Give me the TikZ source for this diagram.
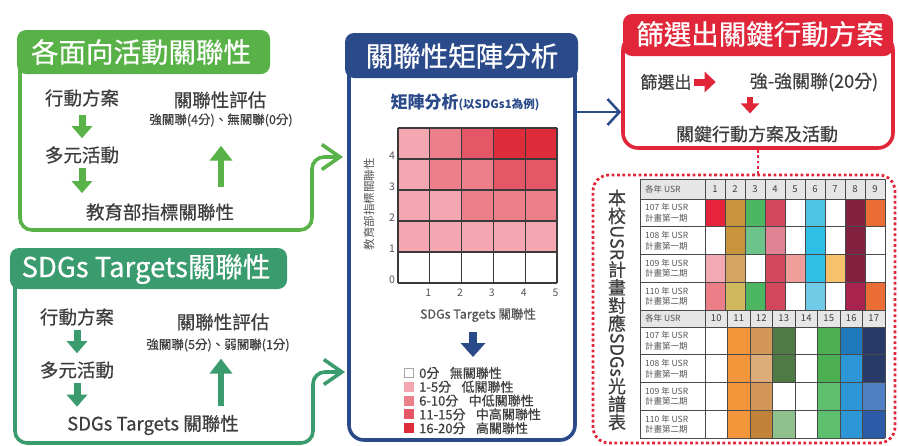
\documentclass[tikz,border=0pt]{standalone}
\usepackage{fontspec}
\setmainfont{Noto Sans CJK TC}
\newfontfamily\medf{Noto Sans CJK TC}[FakeBold=0.6]
\usepackage{graphicx}
\usetikzlibrary{arrows.meta}
\definecolor{gA}{HTML}{58B247}
\definecolor{gB}{HTML}{3A9B6E}
\definecolor{bC}{HTML}{2B4A8A}
\definecolor{rD}{HTML}{E1263A}
\definecolor{tx}{HTML}{3E3E3E}
\definecolor{tl}{HTML}{555555}
\definecolor{m1}{HTML}{F4A7B1}
\definecolor{m2}{HTML}{EC7F8A}
\definecolor{m3}{HTML}{E55766}
\definecolor{m4}{HTML}{DF2C3B}
\definecolor{hdr}{HTML}{E6E6E6}
\definecolor{grd}{HTML}{3A3A3A}
\definecolor{tgrd}{HTML}{4A4A4A}
\newcommand\myfs[1]{\fontsize{#1}{#1}\selectfont}
\begin{document}
\begin{tikzpicture}[x=1pt,y=-1pt,
  frame/.style={line width=3.6pt, rounded corners=12pt},
  tabbox/.style={rounded corners=9pt},
  ttl/.style={text=white, font=\medf\myfs{27.5}, inner sep=0pt},
  body/.style={text=tx, font=\medf\myfs{18.5}, inner sep=0pt},
  note/.style={text=tx, font=\medf\myfs{12.5}, inner sep=0pt},
  rt/.style={text=tx, font=\medf\myfs{17}, inner sep=0pt},
  darr/.style={line width=7pt, -{Triangle[length=12pt,width=20pt]}},
  uarr/.style={line width=6pt, -{Triangle[length=15pt,width=22pt]}},
  barb/.style={-{Straight Barb[length=18pt,width=25pt]}},
  mgrid/.style={grd, line width=1.2pt},
  tgrid/.style={tgrd, line width=0.7pt},
  axn/.style={text=tl, font=\myfs{10.5}, inner sep=0pt},
  tbl/.style={text=tl, font=\myfs{8.5}, inner sep=0pt, align=left},
  num/.style={text=tx, font=\myfs{9.5}, inner sep=0pt},
  leg/.style={text=tx, font=\medf\myfs{13}, inner sep=0pt, anchor=west},
  dots/.style={rD, line width=2.8pt, dash pattern=on 2.8pt off 2.6pt}
]
\useasboundingbox (0,0) rectangle (899,445);

% ---------- box 1 ----------
\coordinate (g1end) at (343,157);
\draw[frame, draw=gA, barb] (20,60) -- (20,230) -- (312,230) -- (312,157) -- (g1end);
\fill[gA, tabbox] (17,30) rectangle (270,74);
\node[ttl] (t1) at (141,52) {各面向活動關聯性};
\node[body] (a1) at (82,98) {行動方案};
\node[body] (a2) at (82,155) {多元活動};
\node[body] (a3) at (160,212) {教育部指標關聯性};
\node[body] (e1) at (220,100) {關聯性評估};
\node[note] (s1) at (221,120) {強關聯(4分)、無關聯(0分)};
\draw[darr, gA, shorten <=8pt, shorten >=8pt] (a1.south) -- (a2.north);
\draw[darr, gA, shorten <=4pt, shorten >=10pt] (a2.south) -- (a2.south |- a3.north);
\draw[uarr, gA, shorten <=16pt, shorten >=19pt] (s1.south |- a3.north) -- (s1.south);

% ---------- box 2 ----------
\coordinate (g2end) at (345,372);
\draw[frame, draw=gB, barb] (15,280) -- (15,443) -- (313,443) -- (313,372) -- (g2end);
\fill[gB, tabbox] (10,248) rectangle (287,289);
\node[ttl] (t2) at (146,269) {SDGs Targets關聯性};
\node[body] (b1) at (77,317) {行動方案};
\node[body] (b2) at (77,370) {多元活動};
\node[body] (b3) at (153,425) {SDGs Targets 關聯性};
\node[body] (e2) at (223,322) {關聯性評估};
\node[note] (s2) at (218,345) {強關聯(5分)、弱關聯(1分)};
\draw[darr, gB, shorten <=4pt, shorten >=8pt] (b1.south) -- (b2.north);
\draw[darr, gB, shorten <=4pt, shorten >=8pt] (b2.south) -- (b2.south |- b3.north);
\draw[uarr, gB, shorten <=9pt, shorten >=7pt] ([xshift=3pt]s2.south |- b3.north) -- ([xshift=3pt]s2.south);

% ---------- centre box ----------
\node[draw=bC, line width=3.6pt, rounded corners=15pt, minimum width=226pt, minimum height=380pt, inner sep=0pt] (cf) at (462,250) {};
\fill[bC, tabbox] (345,33) rectangle (578,78);
\node[ttl] (t3) at (462,56) {關聯性矩陣分析};
\node[text=bC, font=\myfs{17}\bfseries, inner sep=0pt] (mt) at (465,102) {矩陣分析{\myfs{11.5}(以SDGs1為例)}};

\foreach \r in {0,...,4}{\foreach \c in {1,...,5}{
  \pgfmathtruncatemacro\s{\r*\c}
  \ifnum\s=0 \def\cc{white}\else\ifnum\s<6 \def\cc{m1}\else\ifnum\s<11 \def\cc{m2}\else\ifnum\s<16 \def\cc{m3}\else\def\cc{m4}\fi\fi\fi\fi
  \fill[\cc] (366.2+31.8*\c, 252-31*\r) rectangle ++(31.8,31);
}}
\foreach \i in {0,...,5}{
  \draw[mgrid] (398+31.8*\i,128) -- (398+31.8*\i,283);
  \draw[mgrid] (398,128+31*\i) -- (557,128+31*\i);
}
\foreach \r in {0,...,4}{ \node[axn] (yl\r) at (392,280-31*\r) {\r}; }
\foreach \c in {1,...,5}{ \node[axn] (xl\c) at (396.5+31.8*\c,293) {\c}; }
\node[text=tl, font=\myfs{11.5}, inner sep=0pt, rotate=90] (ylab) at (369,204) {教育部指標關聯性};
\node[text=tl, font=\medf\myfs{12.5}, inner sep=0pt] (xlab) at (478,315) {SDGs Targets 關聯性};
\draw[bC, line width=8pt, -{Triangle[length=14pt,width=24pt]}] ([xshift=-5pt,yshift=-10pt]xlab.south) -- ([xshift=-5pt,yshift=-35pt]xlab.south);

\filldraw[fill=white, draw=gray!70, line width=0.6pt] (404,368.5) rectangle ++(9,9);
\foreach \k/\cl in {1/m1,2/m2,3/m3,4/m4}{ \fill[\cl] (403.5,368+13.8*\k) rectangle ++(10,10); }
\node[leg] (l0) at (419,373) {0分\hspace{0.8em}無關聯性};
\node[leg] (l1) at (419,386.8) {1-5分\hspace{0.8em}低關聯性};
\node[leg] (l2) at (419,400.6) {6-10分\hspace{0.8em}中低關聯性};
\node[leg] (l3) at (419,414.4) {11-15分\hspace{0.8em}中高關聯性};
\node[leg] (l4) at (419,428.2) {16-20分\hspace{0.8em}高關聯性};

% ---------- red box ----------
\node[draw=rD, line width=3.6pt, rounded corners=15pt, minimum width=270pt, minimum height=113pt, inner sep=0pt] (rf) at (758,91.5) {};
\fill[rD, tabbox] (623,14) rectangle (893,56);
\node[ttl] (t4) at (760,34) {篩選出關鍵行動方案};
\node[rt] (x1) at (666,82) {篩選出};
\node[rt, font=\medf\myfs{18}] (x2) at (814,82) {強-強關聯(20分)};
\node[rt, font=\medf\myfs{18}] (x3) at (757,134) {關鍵行動方案及活動};
\draw[rD, line width=7pt, -{Triangle[length=11pt,width=20pt]}] ([xshift=2pt]x1.east) -- ([xshift=24pt]x1.east);
\draw[rD, line width=6pt, -{Triangle[length=10pt,width=18pt]}] ([xshift=-7pt,yshift=28pt]x3.north) -- ([xshift=-7pt,yshift=12pt]x3.north);

\draw[bC, line width=2.5pt, -{Straight Barb[length=12pt,width=26pt]}] (cf.east |- 0,112) -- (rf.west |- 0,112);

% ---------- dotted box ----------
\node[draw=rD, line width=2.8pt, dash pattern=on 2.8pt off 2.6pt, rounded corners=16pt, minimum width=302pt, minimum height=268pt, inner sep=0pt] (df) at (744,309) {};
\draw[dots] (rf.south) -- (rf.south |- df.north);
\node[text=tx, font=\medf\myfs{18}, align=center, inner sep=0pt] (vt) at (617,310) {本\\校\\\rotatebox[origin=c]{-90}{USR}\\計\\畫\\對\\應\\\rotatebox[origin=c]{-90}{SDGs}\\光\\譜\\表};

% table
\fill[hdr] (640,179) rectangle (885,199);
\fill[hdr] (640,310) rectangle (885,327);
\foreach \row [count=\i from 0] in {
  {E5243B,C9953C,4CB661,D3475C,FFFFFF,4CC4E2,FFFFFF,81203F,EA6D35},
  {FFFFFF,C9953C,6DC48A,E08494,FFFFFF,2FBFE6,FFFFFF,81203F,FFFFFF},
  {F3A9B4,D4A460,FFFFFF,D3475C,F09E9A,2FBFE6,F5C26B,81203F,FFFFFF},
  {EC7E88,D0B85E,4CB661,D3475C,FFFFFF,72CBE6,FFFFFF,A8244E,EA6D35}}{
  \foreach \col [count=\j from 0] in \row {
    \edef\tmp{\noexpand\definecolor{cc}{HTML}{\col}}\tmp
    \fill[cc] (705+20*\j,199+27.75*\i) rectangle ++(20,27.75);
  }}
\foreach \row [count=\i from 0] in {
  {FFFFFF,F3953B,D39757,507A45,FFFFFF,4CAF52,1F78B9,273A68},
  {FFFFFF,F3953B,DCAD7B,507A45,FFFFFF,4CAF52,2D96D7,273A68},
  {FFFFFF,F3953B,D39757,FFFFFF,FFFFFF,5DBE6E,2D96D7,4E80C3},
  {FFFFFF,F3953B,C08339,8EC18E,FFFFFF,5DBE6E,2D96D7,2C5BA8}}{
  \foreach \col [count=\j from 0] in \row {
    \edef\tmp{\noexpand\definecolor{cc}{HTML}{\col}}\tmp
    \fill[cc] (705+22.5*\j,327+27.75*\i) rectangle ++(22.5,27.75);
  }}
% grid lines
\draw[tgrid] (640,179) -- (640,438);
\foreach \k in {0,...,9}{ \draw[tgrid] (705+20*\k,179) -- (705+20*\k,310); }
\foreach \k in {0,...,8}{ \draw[tgrid] (705+22.5*\k,310) -- (705+22.5*\k,438); }
\draw[tgrid] (640,179) -- (885,179);
\foreach \k in {0,...,4}{ \draw[tgrid] (640,199+27.75*\k) -- (885,199+27.75*\k); }
\foreach \k in {0,...,4}{ \draw[tgrid] (640,327+27.75*\k) -- (885,327+27.75*\k); }
% table text
\node[tbl, anchor=west] (h1) at (645,189) {各年 USR};
\node[tbl, anchor=west] (h2) at (645,318.5) {各年 USR};
\foreach \k in {1,...,9}{ \node[num] (n\k) at (695+20*\k,189) {\k}; }
\foreach \k in {10,...,17}{ \node[num] (n\k) at (491.25+22.5*\k,318.5) {\k}; }
\foreach \lab [count=\i from 0] in {{107 年 USR\\計畫第一期},{108 年 USR\\計畫第一期},{109 年 USR\\計畫第二期},{110 年 USR\\計畫第二期}}{
  \node[tbl, anchor=west, font=\fontsize{8.5}{10.5}\selectfont] (ru\i) at (645,213+27.75*\i) {\lab};
  \node[tbl, anchor=west, font=\fontsize{8.5}{10.5}\selectfont] (rl\i) at (645,341+27.75*\i) {\lab};
}
\end{tikzpicture}
\end{document}
